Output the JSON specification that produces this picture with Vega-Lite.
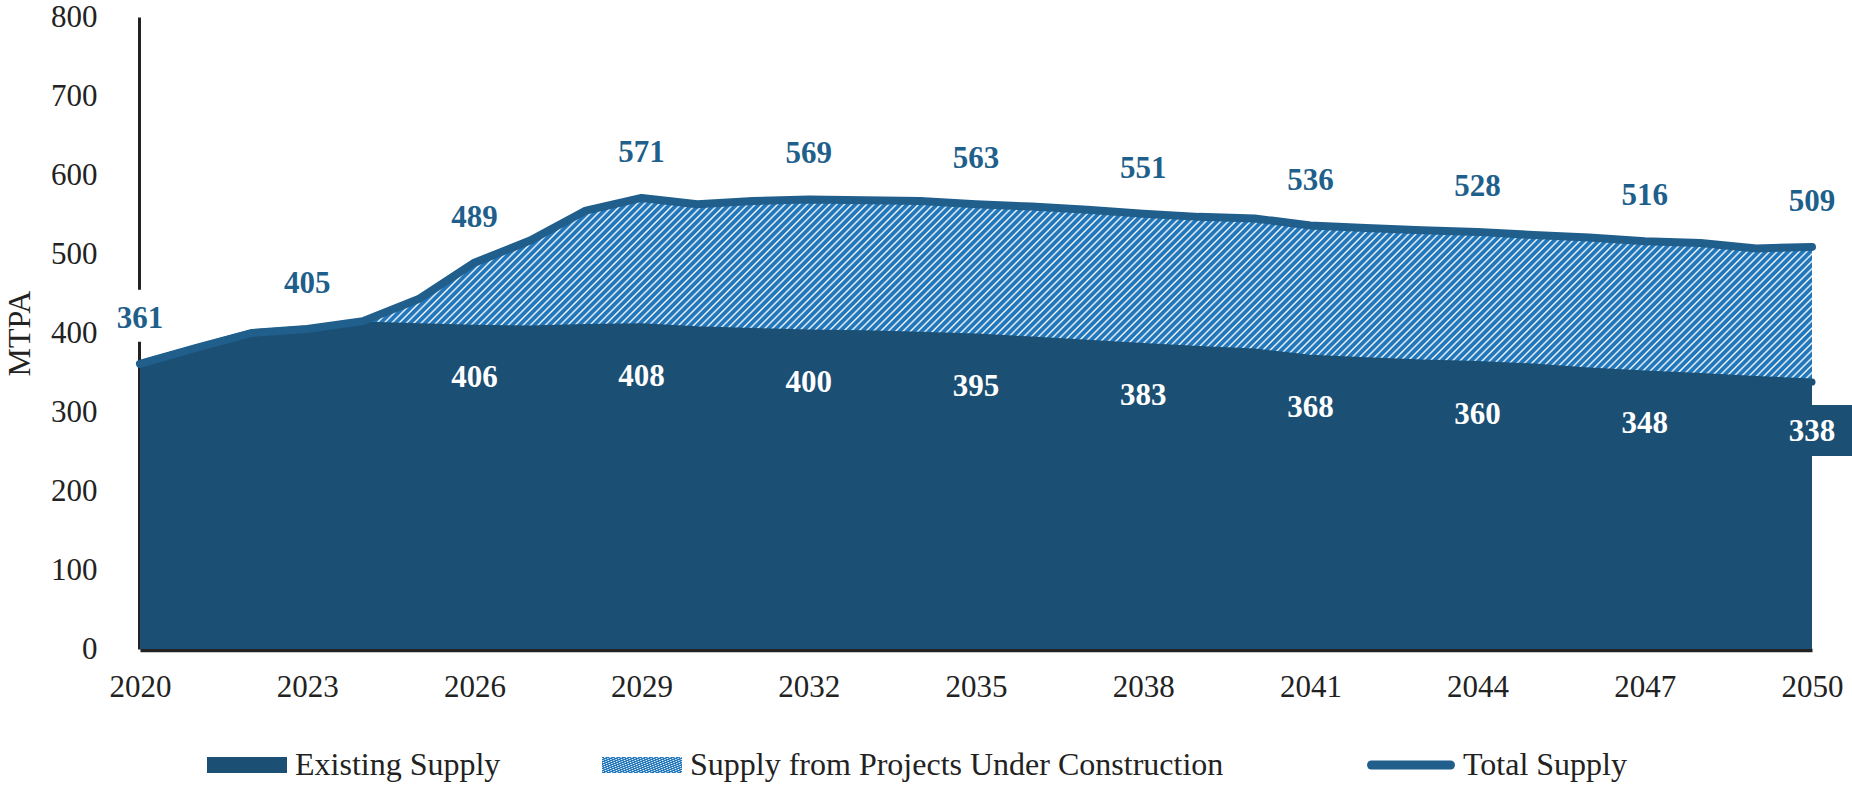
{
"$schema":"https://vega.github.io/schema/vega-lite/v6.json",
"width":1672,"height":632,
"autosize":{"type":"none"},
"padding":{"left":140,"top":17,"right":40,"bottom":137},
"background":"white",
"config":{"view":{"stroke":null},"font":"Liberation Serif"},
"resolve":{"scale":{"stroke":"independent"},"legend":{"stroke":"independent"}},
"data":{"values":[
{"year":2020,"existing":361,"total":361},
{"year":2021,"existing":381,"total":381},
{"year":2022,"existing":400,"total":400},
{"year":2023,"existing":405,"total":405},
{"year":2024,"existing":410,"total":415},
{"year":2025,"existing":408,"total":443},
{"year":2026,"existing":406,"total":489},
{"year":2027,"existing":405,"total":517},
{"year":2028,"existing":407,"total":555},
{"year":2029,"existing":408,"total":571},
{"year":2030,"existing":404,"total":563},
{"year":2031,"existing":402,"total":567},
{"year":2032,"existing":400,"total":569},
{"year":2033,"existing":399,"total":568},
{"year":2034,"existing":397,"total":567},
{"year":2035,"existing":395,"total":563},
{"year":2036,"existing":391,"total":560},
{"year":2037,"existing":387,"total":556},
{"year":2038,"existing":383,"total":551},
{"year":2039,"existing":379,"total":547},
{"year":2040,"existing":376,"total":545},
{"year":2041,"existing":368,"total":536},
{"year":2042,"existing":365,"total":533},
{"year":2043,"existing":362,"total":530},
{"year":2044,"existing":360,"total":528},
{"year":2045,"existing":357,"total":524},
{"year":2046,"existing":352,"total":521},
{"year":2047,"existing":348,"total":516},
{"year":2048,"existing":345,"total":514},
{"year":2049,"existing":341,"total":507},
{"year":2050,"existing":338,"total":509}
]},
"encoding":{"x":{"field":"year","type":"quantitative","scale":{"domain":[2020,2050],"nice":false,"zero":false},
"axis":{"values":[2020,2023,2026,2029,2032,2035,2038,2041,2044,2047,2050],"format":"d","title":null,"grid":false,"ticks":false,"tickSize":0,"domainColor":"#222","domainWidth":3.5,"labelFont":"Liberation Serif","labelFontSize":31,"labelColor":"#222","labelPadding":22,"offset":1,"labelFlush":false,"labelOverlap":false}}},
"layer":[
{"mark":{"type":"area","color":"#1b4f74","opacity":1},
"encoding":{"y":{"field":"existing","type":"quantitative","scale":{"domain":[0,800],"nice":false},
"axis":{"values":[0,100,200,300,400,500,600,700,800],"title":"MTPA","titleFont":"Liberation Serif","titleFontSize":32,"titleFontWeight":"normal","titleColor":"#222","titlePadding":14,"grid":false,"ticks":false,"tickSize":0,"domainColor":"#222","domainWidth":3,"labelFont":"Liberation Serif","labelFontSize":31,"labelColor":"#222","labelPadding":42,"offset":1}},
"fill":{"datum":"Existing Supply","scale":{"range":["#1b4f74"]},"legend":{"title":null,"orient":"none","legendX":67,"legendY":708,"padding":0,"symbolType":"M-1,-0.2H1V0.2H-1Z","symbolSize":6400,"symbolStrokeWidth":0,"symbolOpacity":1,"labelFont":"Liberation Serif","labelFontSize":32,"labelColor":"#222","labelOffset":8,"labelLimit":2000}}}},
{"mark":{"type":"area","opacity":1,"strokeWidth":0,"fill":{"gradient":"linear","x1":0,"y1":0,"x2":1.0967,"y2":0.1207,"stops":[
{"offset":0.000,"color":"#27b"},{"offset":0.002,"color":"#27b"},{"offset":0.003,"color":"#fff"},{"offset":0.004,"color":"#27b"},{"offset":0.006,"color":"#27b"},{"offset":0.007,"color":"#fff"},{"offset":0.008,"color":"#27b"},{"offset":0.010,"color":"#27b"},{"offset":0.011,"color":"#fff"},{"offset":0.012,"color":"#27b"},{"offset":0.014,"color":"#27b"},{"offset":0.015,"color":"#fff"},{"offset":0.016,"color":"#27b"},{"offset":0.018,"color":"#27b"},{"offset":0.019,"color":"#fff"},
{"offset":0.020,"color":"#27b"},{"offset":0.022,"color":"#27b"},{"offset":0.023,"color":"#fff"},{"offset":0.024,"color":"#27b"},{"offset":0.026,"color":"#27b"},{"offset":0.027,"color":"#fff"},{"offset":0.028,"color":"#27b"},{"offset":0.030,"color":"#27b"},{"offset":0.031,"color":"#fff"},{"offset":0.032,"color":"#27b"},{"offset":0.034,"color":"#27b"},{"offset":0.035,"color":"#fff"},{"offset":0.036,"color":"#27b"},{"offset":0.038,"color":"#27b"},{"offset":0.039,"color":"#fff"},
{"offset":0.040,"color":"#27b"},{"offset":0.042,"color":"#27b"},{"offset":0.043,"color":"#fff"},{"offset":0.044,"color":"#27b"},{"offset":0.046,"color":"#27b"},{"offset":0.047,"color":"#fff"},{"offset":0.048,"color":"#27b"},{"offset":0.050,"color":"#27b"},{"offset":0.051,"color":"#fff"},{"offset":0.052,"color":"#27b"},{"offset":0.054,"color":"#27b"},{"offset":0.055,"color":"#fff"},{"offset":0.056,"color":"#27b"},{"offset":0.058,"color":"#27b"},{"offset":0.059,"color":"#fff"},
{"offset":0.060,"color":"#27b"},{"offset":0.062,"color":"#27b"},{"offset":0.063,"color":"#fff"},{"offset":0.064,"color":"#27b"},{"offset":0.066,"color":"#27b"},{"offset":0.067,"color":"#fff"},{"offset":0.068,"color":"#27b"},{"offset":0.070,"color":"#27b"},{"offset":0.071,"color":"#fff"},{"offset":0.072,"color":"#27b"},{"offset":0.074,"color":"#27b"},{"offset":0.075,"color":"#fff"},{"offset":0.076,"color":"#27b"},{"offset":0.078,"color":"#27b"},{"offset":0.079,"color":"#fff"},
{"offset":0.080,"color":"#27b"},{"offset":0.082,"color":"#27b"},{"offset":0.083,"color":"#fff"},{"offset":0.084,"color":"#27b"},{"offset":0.086,"color":"#27b"},{"offset":0.087,"color":"#fff"},{"offset":0.088,"color":"#27b"},{"offset":0.090,"color":"#27b"},{"offset":0.091,"color":"#fff"},{"offset":0.092,"color":"#27b"},{"offset":0.094,"color":"#27b"},{"offset":0.095,"color":"#fff"},{"offset":0.096,"color":"#27b"},{"offset":0.098,"color":"#27b"},{"offset":0.099,"color":"#fff"},
{"offset":0.100,"color":"#27b"},{"offset":0.102,"color":"#27b"},{"offset":0.103,"color":"#fff"},{"offset":0.104,"color":"#27b"},{"offset":0.106,"color":"#27b"},{"offset":0.107,"color":"#fff"},{"offset":0.108,"color":"#27b"},{"offset":0.110,"color":"#27b"},{"offset":0.111,"color":"#fff"},{"offset":0.112,"color":"#27b"},{"offset":0.114,"color":"#27b"},{"offset":0.115,"color":"#fff"},{"offset":0.116,"color":"#27b"},{"offset":0.118,"color":"#27b"},{"offset":0.119,"color":"#fff"},
{"offset":0.120,"color":"#27b"},{"offset":0.122,"color":"#27b"},{"offset":0.123,"color":"#fff"},{"offset":0.124,"color":"#27b"},{"offset":0.126,"color":"#27b"},{"offset":0.127,"color":"#fff"},{"offset":0.128,"color":"#27b"},{"offset":0.130,"color":"#27b"},{"offset":0.131,"color":"#fff"},{"offset":0.132,"color":"#27b"},{"offset":0.134,"color":"#27b"},{"offset":0.135,"color":"#fff"},{"offset":0.136,"color":"#27b"},{"offset":0.138,"color":"#27b"},{"offset":0.139,"color":"#fff"},
{"offset":0.140,"color":"#27b"},{"offset":0.142,"color":"#27b"},{"offset":0.143,"color":"#fff"},{"offset":0.144,"color":"#27b"},{"offset":0.146,"color":"#27b"},{"offset":0.147,"color":"#fff"},{"offset":0.148,"color":"#27b"},{"offset":0.150,"color":"#27b"},{"offset":0.151,"color":"#fff"},{"offset":0.152,"color":"#27b"},{"offset":0.154,"color":"#27b"},{"offset":0.155,"color":"#fff"},{"offset":0.156,"color":"#27b"},{"offset":0.158,"color":"#27b"},{"offset":0.159,"color":"#fff"},
{"offset":0.160,"color":"#27b"},{"offset":0.162,"color":"#27b"},{"offset":0.163,"color":"#fff"},{"offset":0.164,"color":"#27b"},{"offset":0.166,"color":"#27b"},{"offset":0.167,"color":"#fff"},{"offset":0.168,"color":"#27b"},{"offset":0.170,"color":"#27b"},{"offset":0.171,"color":"#fff"},{"offset":0.172,"color":"#27b"},{"offset":0.174,"color":"#27b"},{"offset":0.175,"color":"#fff"},{"offset":0.176,"color":"#27b"},{"offset":0.178,"color":"#27b"},{"offset":0.179,"color":"#fff"},
{"offset":0.180,"color":"#27b"},{"offset":0.182,"color":"#27b"},{"offset":0.183,"color":"#fff"},{"offset":0.184,"color":"#27b"},{"offset":0.186,"color":"#27b"},{"offset":0.187,"color":"#fff"},{"offset":0.188,"color":"#27b"},{"offset":0.190,"color":"#27b"},{"offset":0.191,"color":"#fff"},{"offset":0.192,"color":"#27b"},{"offset":0.194,"color":"#27b"},{"offset":0.195,"color":"#fff"},{"offset":0.196,"color":"#27b"},{"offset":0.198,"color":"#27b"},{"offset":0.199,"color":"#fff"},
{"offset":0.200,"color":"#27b"},{"offset":0.202,"color":"#27b"},{"offset":0.203,"color":"#fff"},{"offset":0.204,"color":"#27b"},{"offset":0.206,"color":"#27b"},{"offset":0.207,"color":"#fff"},{"offset":0.208,"color":"#27b"},{"offset":0.210,"color":"#27b"},{"offset":0.211,"color":"#fff"},{"offset":0.212,"color":"#27b"},{"offset":0.214,"color":"#27b"},{"offset":0.215,"color":"#fff"},{"offset":0.216,"color":"#27b"},{"offset":0.218,"color":"#27b"},{"offset":0.219,"color":"#fff"},
{"offset":0.220,"color":"#27b"},{"offset":0.222,"color":"#27b"},{"offset":0.223,"color":"#fff"},{"offset":0.224,"color":"#27b"},{"offset":0.226,"color":"#27b"},{"offset":0.227,"color":"#fff"},{"offset":0.228,"color":"#27b"},{"offset":0.230,"color":"#27b"},{"offset":0.231,"color":"#fff"},{"offset":0.232,"color":"#27b"},{"offset":0.234,"color":"#27b"},{"offset":0.235,"color":"#fff"},{"offset":0.236,"color":"#27b"},{"offset":0.238,"color":"#27b"},{"offset":0.239,"color":"#fff"},
{"offset":0.240,"color":"#27b"},{"offset":0.242,"color":"#27b"},{"offset":0.243,"color":"#fff"},{"offset":0.244,"color":"#27b"},{"offset":0.246,"color":"#27b"},{"offset":0.247,"color":"#fff"},{"offset":0.248,"color":"#27b"},{"offset":0.250,"color":"#27b"},{"offset":0.251,"color":"#fff"},{"offset":0.252,"color":"#27b"},{"offset":0.254,"color":"#27b"},{"offset":0.255,"color":"#fff"},{"offset":0.256,"color":"#27b"},{"offset":0.258,"color":"#27b"},{"offset":0.259,"color":"#fff"},
{"offset":0.260,"color":"#27b"},{"offset":0.262,"color":"#27b"},{"offset":0.263,"color":"#fff"},{"offset":0.264,"color":"#27b"},{"offset":0.266,"color":"#27b"},{"offset":0.267,"color":"#fff"},{"offset":0.268,"color":"#27b"},{"offset":0.270,"color":"#27b"},{"offset":0.271,"color":"#fff"},{"offset":0.272,"color":"#27b"},{"offset":0.274,"color":"#27b"},{"offset":0.275,"color":"#fff"},{"offset":0.276,"color":"#27b"},{"offset":0.278,"color":"#27b"},{"offset":0.279,"color":"#fff"},
{"offset":0.280,"color":"#27b"},{"offset":0.282,"color":"#27b"},{"offset":0.283,"color":"#fff"},{"offset":0.284,"color":"#27b"},{"offset":0.286,"color":"#27b"},{"offset":0.287,"color":"#fff"},{"offset":0.288,"color":"#27b"},{"offset":0.290,"color":"#27b"},{"offset":0.291,"color":"#fff"},{"offset":0.292,"color":"#27b"},{"offset":0.294,"color":"#27b"},{"offset":0.295,"color":"#fff"},{"offset":0.296,"color":"#27b"},{"offset":0.298,"color":"#27b"},{"offset":0.299,"color":"#fff"},
{"offset":0.300,"color":"#27b"},{"offset":0.302,"color":"#27b"},{"offset":0.303,"color":"#fff"},{"offset":0.304,"color":"#27b"},{"offset":0.306,"color":"#27b"},{"offset":0.307,"color":"#fff"},{"offset":0.308,"color":"#27b"},{"offset":0.310,"color":"#27b"},{"offset":0.311,"color":"#fff"},{"offset":0.312,"color":"#27b"},{"offset":0.314,"color":"#27b"},{"offset":0.315,"color":"#fff"},{"offset":0.316,"color":"#27b"},{"offset":0.318,"color":"#27b"},{"offset":0.319,"color":"#fff"},
{"offset":0.320,"color":"#27b"},{"offset":0.322,"color":"#27b"},{"offset":0.323,"color":"#fff"},{"offset":0.324,"color":"#27b"},{"offset":0.326,"color":"#27b"},{"offset":0.327,"color":"#fff"},{"offset":0.328,"color":"#27b"},{"offset":0.330,"color":"#27b"},{"offset":0.331,"color":"#fff"},{"offset":0.332,"color":"#27b"},{"offset":0.334,"color":"#27b"},{"offset":0.335,"color":"#fff"},{"offset":0.336,"color":"#27b"},{"offset":0.338,"color":"#27b"},{"offset":0.339,"color":"#fff"},
{"offset":0.340,"color":"#27b"},{"offset":0.342,"color":"#27b"},{"offset":0.343,"color":"#fff"},{"offset":0.344,"color":"#27b"},{"offset":0.346,"color":"#27b"},{"offset":0.347,"color":"#fff"},{"offset":0.348,"color":"#27b"},{"offset":0.350,"color":"#27b"},{"offset":0.351,"color":"#fff"},{"offset":0.352,"color":"#27b"},{"offset":0.354,"color":"#27b"},{"offset":0.355,"color":"#fff"},{"offset":0.356,"color":"#27b"},{"offset":0.358,"color":"#27b"},{"offset":0.359,"color":"#fff"},
{"offset":0.360,"color":"#27b"},{"offset":0.362,"color":"#27b"},{"offset":0.363,"color":"#fff"},{"offset":0.364,"color":"#27b"},{"offset":0.366,"color":"#27b"},{"offset":0.367,"color":"#fff"},{"offset":0.368,"color":"#27b"},{"offset":0.370,"color":"#27b"},{"offset":0.371,"color":"#fff"},{"offset":0.372,"color":"#27b"},{"offset":0.374,"color":"#27b"},{"offset":0.375,"color":"#fff"},{"offset":0.376,"color":"#27b"},{"offset":0.378,"color":"#27b"},{"offset":0.379,"color":"#fff"},
{"offset":0.380,"color":"#27b"},{"offset":0.382,"color":"#27b"},{"offset":0.383,"color":"#fff"},{"offset":0.384,"color":"#27b"},{"offset":0.386,"color":"#27b"},{"offset":0.387,"color":"#fff"},{"offset":0.388,"color":"#27b"},{"offset":0.390,"color":"#27b"},{"offset":0.391,"color":"#fff"},{"offset":0.392,"color":"#27b"},{"offset":0.394,"color":"#27b"},{"offset":0.395,"color":"#fff"},{"offset":0.396,"color":"#27b"},{"offset":0.398,"color":"#27b"},{"offset":0.399,"color":"#fff"},
{"offset":0.400,"color":"#27b"},{"offset":0.402,"color":"#27b"},{"offset":0.403,"color":"#fff"},{"offset":0.404,"color":"#27b"},{"offset":0.406,"color":"#27b"},{"offset":0.407,"color":"#fff"},{"offset":0.408,"color":"#27b"},{"offset":0.410,"color":"#27b"},{"offset":0.411,"color":"#fff"},{"offset":0.412,"color":"#27b"},{"offset":0.414,"color":"#27b"},{"offset":0.415,"color":"#fff"},{"offset":0.416,"color":"#27b"},{"offset":0.418,"color":"#27b"},{"offset":0.419,"color":"#fff"},
{"offset":0.420,"color":"#27b"},{"offset":0.422,"color":"#27b"},{"offset":0.423,"color":"#fff"},{"offset":0.424,"color":"#27b"},{"offset":0.426,"color":"#27b"},{"offset":0.427,"color":"#fff"},{"offset":0.428,"color":"#27b"},{"offset":0.430,"color":"#27b"},{"offset":0.431,"color":"#fff"},{"offset":0.432,"color":"#27b"},{"offset":0.434,"color":"#27b"},{"offset":0.435,"color":"#fff"},{"offset":0.436,"color":"#27b"},{"offset":0.438,"color":"#27b"},{"offset":0.439,"color":"#fff"},
{"offset":0.440,"color":"#27b"},{"offset":0.442,"color":"#27b"},{"offset":0.443,"color":"#fff"},{"offset":0.444,"color":"#27b"},{"offset":0.446,"color":"#27b"},{"offset":0.447,"color":"#fff"},{"offset":0.448,"color":"#27b"},{"offset":0.450,"color":"#27b"},{"offset":0.451,"color":"#fff"},{"offset":0.452,"color":"#27b"},{"offset":0.454,"color":"#27b"},{"offset":0.455,"color":"#fff"},{"offset":0.456,"color":"#27b"},{"offset":0.458,"color":"#27b"},{"offset":0.459,"color":"#fff"},
{"offset":0.460,"color":"#27b"},{"offset":0.462,"color":"#27b"},{"offset":0.463,"color":"#fff"},{"offset":0.464,"color":"#27b"},{"offset":0.466,"color":"#27b"},{"offset":0.467,"color":"#fff"},{"offset":0.468,"color":"#27b"},{"offset":0.470,"color":"#27b"},{"offset":0.471,"color":"#fff"},{"offset":0.472,"color":"#27b"},{"offset":0.474,"color":"#27b"},{"offset":0.475,"color":"#fff"},{"offset":0.476,"color":"#27b"},{"offset":0.478,"color":"#27b"},{"offset":0.479,"color":"#fff"},
{"offset":0.480,"color":"#27b"},{"offset":0.482,"color":"#27b"},{"offset":0.483,"color":"#fff"},{"offset":0.484,"color":"#27b"},{"offset":0.486,"color":"#27b"},{"offset":0.487,"color":"#fff"},{"offset":0.488,"color":"#27b"},{"offset":0.490,"color":"#27b"},{"offset":0.491,"color":"#fff"},{"offset":0.492,"color":"#27b"},{"offset":0.494,"color":"#27b"},{"offset":0.495,"color":"#fff"},{"offset":0.496,"color":"#27b"},{"offset":0.498,"color":"#27b"},{"offset":0.499,"color":"#fff"},
{"offset":0.500,"color":"#27b"},{"offset":0.502,"color":"#27b"},{"offset":0.503,"color":"#fff"},{"offset":0.504,"color":"#27b"},{"offset":0.506,"color":"#27b"},{"offset":0.507,"color":"#fff"},{"offset":0.508,"color":"#27b"},{"offset":0.510,"color":"#27b"},{"offset":0.511,"color":"#fff"},{"offset":0.512,"color":"#27b"},{"offset":0.514,"color":"#27b"},{"offset":0.515,"color":"#fff"},{"offset":0.516,"color":"#27b"},{"offset":0.518,"color":"#27b"},{"offset":0.519,"color":"#fff"},
{"offset":0.520,"color":"#27b"},{"offset":0.522,"color":"#27b"},{"offset":0.523,"color":"#fff"},{"offset":0.524,"color":"#27b"},{"offset":0.526,"color":"#27b"},{"offset":0.527,"color":"#fff"},{"offset":0.528,"color":"#27b"},{"offset":0.530,"color":"#27b"},{"offset":0.531,"color":"#fff"},{"offset":0.532,"color":"#27b"},{"offset":0.534,"color":"#27b"},{"offset":0.535,"color":"#fff"},{"offset":0.536,"color":"#27b"},{"offset":0.538,"color":"#27b"},{"offset":0.539,"color":"#fff"},
{"offset":0.540,"color":"#27b"},{"offset":0.542,"color":"#27b"},{"offset":0.543,"color":"#fff"},{"offset":0.544,"color":"#27b"},{"offset":0.546,"color":"#27b"},{"offset":0.547,"color":"#fff"},{"offset":0.548,"color":"#27b"},{"offset":0.550,"color":"#27b"},{"offset":0.551,"color":"#fff"},{"offset":0.552,"color":"#27b"},{"offset":0.554,"color":"#27b"},{"offset":0.555,"color":"#fff"},{"offset":0.556,"color":"#27b"},{"offset":0.558,"color":"#27b"},{"offset":0.559,"color":"#fff"},
{"offset":0.560,"color":"#27b"},{"offset":0.562,"color":"#27b"},{"offset":0.563,"color":"#fff"},{"offset":0.564,"color":"#27b"},{"offset":0.566,"color":"#27b"},{"offset":0.567,"color":"#fff"},{"offset":0.568,"color":"#27b"},{"offset":0.570,"color":"#27b"},{"offset":0.571,"color":"#fff"},{"offset":0.572,"color":"#27b"},{"offset":0.574,"color":"#27b"},{"offset":0.575,"color":"#fff"},{"offset":0.576,"color":"#27b"},{"offset":0.578,"color":"#27b"},{"offset":0.579,"color":"#fff"},
{"offset":0.580,"color":"#27b"},{"offset":0.582,"color":"#27b"},{"offset":0.583,"color":"#fff"},{"offset":0.584,"color":"#27b"},{"offset":0.586,"color":"#27b"},{"offset":0.587,"color":"#fff"},{"offset":0.588,"color":"#27b"},{"offset":0.590,"color":"#27b"},{"offset":0.591,"color":"#fff"},{"offset":0.592,"color":"#27b"},{"offset":0.594,"color":"#27b"},{"offset":0.595,"color":"#fff"},{"offset":0.596,"color":"#27b"},{"offset":0.598,"color":"#27b"},{"offset":0.599,"color":"#fff"},
{"offset":0.600,"color":"#27b"},{"offset":0.602,"color":"#27b"},{"offset":0.603,"color":"#fff"},{"offset":0.604,"color":"#27b"},{"offset":0.606,"color":"#27b"},{"offset":0.607,"color":"#fff"},{"offset":0.608,"color":"#27b"},{"offset":0.610,"color":"#27b"},{"offset":0.611,"color":"#fff"},{"offset":0.612,"color":"#27b"},{"offset":0.614,"color":"#27b"},{"offset":0.615,"color":"#fff"},{"offset":0.616,"color":"#27b"},{"offset":0.618,"color":"#27b"},{"offset":0.619,"color":"#fff"},
{"offset":0.620,"color":"#27b"},{"offset":0.622,"color":"#27b"},{"offset":0.623,"color":"#fff"},{"offset":0.624,"color":"#27b"},{"offset":0.626,"color":"#27b"},{"offset":0.627,"color":"#fff"},{"offset":0.628,"color":"#27b"},{"offset":0.630,"color":"#27b"},{"offset":0.631,"color":"#fff"},{"offset":0.632,"color":"#27b"},{"offset":0.634,"color":"#27b"},{"offset":0.635,"color":"#fff"},{"offset":0.636,"color":"#27b"},{"offset":0.638,"color":"#27b"},{"offset":0.639,"color":"#fff"},
{"offset":0.640,"color":"#27b"},{"offset":0.642,"color":"#27b"},{"offset":0.643,"color":"#fff"},{"offset":0.644,"color":"#27b"},{"offset":0.646,"color":"#27b"},{"offset":0.647,"color":"#fff"},{"offset":0.648,"color":"#27b"},{"offset":0.650,"color":"#27b"},{"offset":0.651,"color":"#fff"},{"offset":0.652,"color":"#27b"},{"offset":0.654,"color":"#27b"},{"offset":0.655,"color":"#fff"},{"offset":0.656,"color":"#27b"},{"offset":0.658,"color":"#27b"},{"offset":0.659,"color":"#fff"},
{"offset":0.660,"color":"#27b"},{"offset":0.662,"color":"#27b"},{"offset":0.663,"color":"#fff"},{"offset":0.664,"color":"#27b"},{"offset":0.666,"color":"#27b"},{"offset":0.667,"color":"#fff"},{"offset":0.668,"color":"#27b"},{"offset":0.670,"color":"#27b"},{"offset":0.671,"color":"#fff"},{"offset":0.672,"color":"#27b"},{"offset":0.674,"color":"#27b"},{"offset":0.675,"color":"#fff"},{"offset":0.676,"color":"#27b"},{"offset":0.678,"color":"#27b"},{"offset":0.679,"color":"#fff"},
{"offset":0.680,"color":"#27b"},{"offset":0.682,"color":"#27b"},{"offset":0.683,"color":"#fff"},{"offset":0.684,"color":"#27b"},{"offset":0.686,"color":"#27b"},{"offset":0.687,"color":"#fff"},{"offset":0.688,"color":"#27b"},{"offset":0.690,"color":"#27b"},{"offset":0.691,"color":"#fff"},{"offset":0.692,"color":"#27b"},{"offset":0.694,"color":"#27b"},{"offset":0.695,"color":"#fff"},{"offset":0.696,"color":"#27b"},{"offset":0.698,"color":"#27b"},{"offset":0.699,"color":"#fff"},
{"offset":0.700,"color":"#27b"},{"offset":0.702,"color":"#27b"},{"offset":0.703,"color":"#fff"},{"offset":0.704,"color":"#27b"},{"offset":0.706,"color":"#27b"},{"offset":0.707,"color":"#fff"},{"offset":0.708,"color":"#27b"},{"offset":0.710,"color":"#27b"},{"offset":0.711,"color":"#fff"},{"offset":0.712,"color":"#27b"},{"offset":0.714,"color":"#27b"},{"offset":0.715,"color":"#fff"},{"offset":0.716,"color":"#27b"},{"offset":0.718,"color":"#27b"},{"offset":0.719,"color":"#fff"},
{"offset":0.720,"color":"#27b"},{"offset":0.722,"color":"#27b"},{"offset":0.723,"color":"#fff"},{"offset":0.724,"color":"#27b"},{"offset":0.726,"color":"#27b"},{"offset":0.727,"color":"#fff"},{"offset":0.728,"color":"#27b"},{"offset":0.730,"color":"#27b"},{"offset":0.731,"color":"#fff"},{"offset":0.732,"color":"#27b"},{"offset":0.734,"color":"#27b"},{"offset":0.735,"color":"#fff"},{"offset":0.736,"color":"#27b"},{"offset":0.738,"color":"#27b"},{"offset":0.739,"color":"#fff"},
{"offset":0.740,"color":"#27b"},{"offset":0.742,"color":"#27b"},{"offset":0.743,"color":"#fff"},{"offset":0.744,"color":"#27b"},{"offset":0.746,"color":"#27b"},{"offset":0.747,"color":"#fff"},{"offset":0.748,"color":"#27b"},{"offset":0.750,"color":"#27b"},{"offset":0.751,"color":"#fff"},{"offset":0.752,"color":"#27b"},{"offset":0.754,"color":"#27b"},{"offset":0.755,"color":"#fff"},{"offset":0.756,"color":"#27b"},{"offset":0.758,"color":"#27b"},{"offset":0.759,"color":"#fff"},
{"offset":0.760,"color":"#27b"},{"offset":0.762,"color":"#27b"},{"offset":0.763,"color":"#fff"},{"offset":0.764,"color":"#27b"},{"offset":0.766,"color":"#27b"},{"offset":0.767,"color":"#fff"},{"offset":0.768,"color":"#27b"},{"offset":0.770,"color":"#27b"},{"offset":0.771,"color":"#fff"},{"offset":0.772,"color":"#27b"},{"offset":0.774,"color":"#27b"},{"offset":0.775,"color":"#fff"},{"offset":0.776,"color":"#27b"},{"offset":0.778,"color":"#27b"},{"offset":0.779,"color":"#fff"},
{"offset":0.780,"color":"#27b"},{"offset":0.782,"color":"#27b"},{"offset":0.783,"color":"#fff"},{"offset":0.784,"color":"#27b"},{"offset":0.786,"color":"#27b"},{"offset":0.787,"color":"#fff"},{"offset":0.788,"color":"#27b"},{"offset":0.790,"color":"#27b"},{"offset":0.791,"color":"#fff"},{"offset":0.792,"color":"#27b"},{"offset":0.794,"color":"#27b"},{"offset":0.795,"color":"#fff"},{"offset":0.796,"color":"#27b"},{"offset":0.798,"color":"#27b"},{"offset":0.799,"color":"#fff"},
{"offset":0.800,"color":"#27b"},{"offset":0.802,"color":"#27b"},{"offset":0.803,"color":"#fff"},{"offset":0.804,"color":"#27b"},{"offset":0.806,"color":"#27b"},{"offset":0.807,"color":"#fff"},{"offset":0.808,"color":"#27b"},{"offset":0.810,"color":"#27b"},{"offset":0.811,"color":"#fff"},{"offset":0.812,"color":"#27b"},{"offset":0.814,"color":"#27b"},{"offset":0.815,"color":"#fff"},{"offset":0.816,"color":"#27b"},{"offset":0.818,"color":"#27b"},{"offset":0.819,"color":"#fff"},
{"offset":0.820,"color":"#27b"},{"offset":0.822,"color":"#27b"},{"offset":0.823,"color":"#fff"},{"offset":0.824,"color":"#27b"},{"offset":0.826,"color":"#27b"},{"offset":0.827,"color":"#fff"},{"offset":0.828,"color":"#27b"},{"offset":0.830,"color":"#27b"},{"offset":0.831,"color":"#fff"},{"offset":0.832,"color":"#27b"},{"offset":0.834,"color":"#27b"},{"offset":0.835,"color":"#fff"},{"offset":0.836,"color":"#27b"},{"offset":0.838,"color":"#27b"},{"offset":0.839,"color":"#fff"},
{"offset":0.840,"color":"#27b"},{"offset":0.842,"color":"#27b"},{"offset":0.843,"color":"#fff"},{"offset":0.844,"color":"#27b"},{"offset":0.846,"color":"#27b"},{"offset":0.847,"color":"#fff"},{"offset":0.848,"color":"#27b"},{"offset":0.850,"color":"#27b"},{"offset":0.851,"color":"#fff"},{"offset":0.852,"color":"#27b"},{"offset":0.854,"color":"#27b"},{"offset":0.855,"color":"#fff"},{"offset":0.856,"color":"#27b"},{"offset":0.858,"color":"#27b"},{"offset":0.859,"color":"#fff"},
{"offset":0.860,"color":"#27b"},{"offset":0.862,"color":"#27b"},{"offset":0.863,"color":"#fff"},{"offset":0.864,"color":"#27b"},{"offset":0.866,"color":"#27b"},{"offset":0.867,"color":"#fff"},{"offset":0.868,"color":"#27b"},{"offset":0.870,"color":"#27b"},{"offset":0.871,"color":"#fff"},{"offset":0.872,"color":"#27b"},{"offset":0.874,"color":"#27b"},{"offset":0.875,"color":"#fff"},{"offset":0.876,"color":"#27b"},{"offset":0.878,"color":"#27b"},{"offset":0.879,"color":"#fff"},
{"offset":0.880,"color":"#27b"},{"offset":0.882,"color":"#27b"},{"offset":0.883,"color":"#fff"},{"offset":0.884,"color":"#27b"},{"offset":0.886,"color":"#27b"},{"offset":0.887,"color":"#fff"},{"offset":0.888,"color":"#27b"},{"offset":0.890,"color":"#27b"},{"offset":0.891,"color":"#fff"},{"offset":0.892,"color":"#27b"},{"offset":0.894,"color":"#27b"},{"offset":0.895,"color":"#fff"},{"offset":0.896,"color":"#27b"},{"offset":0.898,"color":"#27b"},{"offset":0.899,"color":"#fff"},
{"offset":0.900,"color":"#27b"},{"offset":0.902,"color":"#27b"},{"offset":0.903,"color":"#fff"},{"offset":0.904,"color":"#27b"},{"offset":0.906,"color":"#27b"},{"offset":0.907,"color":"#fff"},{"offset":0.908,"color":"#27b"},{"offset":0.910,"color":"#27b"},{"offset":0.911,"color":"#fff"},{"offset":0.912,"color":"#27b"},{"offset":0.914,"color":"#27b"},{"offset":0.915,"color":"#fff"},{"offset":0.916,"color":"#27b"},{"offset":0.918,"color":"#27b"},{"offset":0.919,"color":"#fff"},
{"offset":0.920,"color":"#27b"},{"offset":0.922,"color":"#27b"},{"offset":0.923,"color":"#fff"},{"offset":0.924,"color":"#27b"},{"offset":0.926,"color":"#27b"},{"offset":0.927,"color":"#fff"},{"offset":0.928,"color":"#27b"},{"offset":0.930,"color":"#27b"},{"offset":0.931,"color":"#fff"},{"offset":0.932,"color":"#27b"},{"offset":0.934,"color":"#27b"},{"offset":0.935,"color":"#fff"},{"offset":0.936,"color":"#27b"},{"offset":0.938,"color":"#27b"},{"offset":0.939,"color":"#fff"},
{"offset":0.940,"color":"#27b"},{"offset":0.942,"color":"#27b"},{"offset":0.943,"color":"#fff"},{"offset":0.944,"color":"#27b"},{"offset":0.946,"color":"#27b"},{"offset":0.947,"color":"#fff"},{"offset":0.948,"color":"#27b"},{"offset":0.950,"color":"#27b"},{"offset":0.951,"color":"#fff"},{"offset":0.952,"color":"#27b"},{"offset":0.954,"color":"#27b"},{"offset":0.955,"color":"#fff"},{"offset":0.956,"color":"#27b"},{"offset":0.958,"color":"#27b"},{"offset":0.959,"color":"#fff"},
{"offset":0.960,"color":"#27b"},{"offset":0.962,"color":"#27b"},{"offset":0.963,"color":"#fff"},{"offset":0.964,"color":"#27b"},{"offset":0.966,"color":"#27b"},{"offset":0.967,"color":"#fff"},{"offset":0.968,"color":"#27b"},{"offset":0.970,"color":"#27b"},{"offset":0.971,"color":"#fff"},{"offset":0.972,"color":"#27b"},{"offset":0.974,"color":"#27b"},{"offset":0.975,"color":"#fff"},{"offset":0.976,"color":"#27b"},{"offset":0.978,"color":"#27b"},{"offset":0.979,"color":"#fff"},
{"offset":0.980,"color":"#27b"},{"offset":0.982,"color":"#27b"},{"offset":0.983,"color":"#fff"},{"offset":0.984,"color":"#27b"},{"offset":0.986,"color":"#27b"},{"offset":0.987,"color":"#fff"},{"offset":0.988,"color":"#27b"},{"offset":0.990,"color":"#27b"},{"offset":0.991,"color":"#fff"},{"offset":0.992,"color":"#27b"},{"offset":0.994,"color":"#27b"},{"offset":0.995,"color":"#fff"},{"offset":0.996,"color":"#27b"},{"offset":0.998,"color":"#27b"},{"offset":0.999,"color":"#fff"},
{"offset":1.000,"color":"#27b"}]}},
"encoding":{"y":{"field":"total","type":"quantitative"},"y2":{"field":"existing"},
"stroke":{"datum":"Supply from Projects Under Construction","scale":{"range":["transparent"]},"legend":{"title":null,"orient":"none","legendX":462,"legendY":708,"padding":0,"symbolType":"M-1,-0.2H1V0.2H-1Z","symbolSize":6400,"symbolStrokeWidth":0,"symbolOpacity":1,"labelFont":"Liberation Serif","labelFontSize":32,"labelColor":"#222","labelOffset":8,"labelLimit":2000,
"encode":{"symbols":{"update":{"stroke":{"value":"transparent"},"opacity":{"value":1},"fill":{"value":{"gradient":"linear","x1":0,"y1":0,"x2":1.1538,"y2":0.2308,"stops":[
{"offset":0,"color":"#27b"},{"offset":0.05,"color":"#27b"},{"offset":0.075,"color":"#fff"},{"offset":0.1,"color":"#27b"},{"offset":0.15,"color":"#27b"},{"offset":0.175,"color":"#fff"},{"offset":0.2,"color":"#27b"},{"offset":0.25,"color":"#27b"},{"offset":0.275,"color":"#fff"},{"offset":0.3,"color":"#27b"},{"offset":0.35,"color":"#27b"},{"offset":0.375,"color":"#fff"},{"offset":0.4,"color":"#27b"},{"offset":0.45,"color":"#27b"},{"offset":0.475,"color":"#fff"},{"offset":0.5,"color":"#27b"},{"offset":0.55,"color":"#27b"},{"offset":0.575,"color":"#fff"},{"offset":0.6,"color":"#27b"},{"offset":0.65,"color":"#27b"},{"offset":0.675,"color":"#fff"},{"offset":0.7,"color":"#27b"},{"offset":0.75,"color":"#27b"},{"offset":0.775,"color":"#fff"},{"offset":0.8,"color":"#27b"},{"offset":0.85,"color":"#27b"},{"offset":0.875,"color":"#fff"},{"offset":0.9,"color":"#27b"},{"offset":0.95,"color":"#27b"},{"offset":0.975,"color":"#fff"},{"offset":1,"color":"#27b"}]}}}}}}}}},
{"mark":{"type":"line","color":"#1b4f74","strokeWidth":7,"strokeCap":"round","strokeJoin":"round"},
"encoding":{"y":{"field":"existing","type":"quantitative"}}},
{"mark":{"type":"line","strokeWidth":8,"strokeCap":"round","strokeJoin":"round"},
"encoding":{"y":{"field":"total","type":"quantitative"},
"stroke":{"datum":"Total Supply","scale":{"range":["#205e8c"]},"legend":{"title":null,"orient":"none","legendX":1227,"legendY":704,"padding":0,"symbolType":"stroke","symbolSize":6241,"symbolStrokeWidth":9,"labelFont":"Liberation Serif","labelFontSize":32,"labelColor":"#222","labelOffset":8,"labelLimit":2000,"encode":{"symbols":{"update":{"strokeCap":{"value":"round"}}}}}}}},
{"transform":[{"filter":"datum.year == 2020"}],
"mark":{"type":"point","shape":"M-1,-0.867H1V0.867H-1Z","size":3600,"filled":true,"color":"white","opacity":1,"strokeWidth":0,"yOffset":-48},
"encoding":{"y":{"field":"total","type":"quantitative"}}},
{"transform":[{"filter":"datum.year == 2050"}],
"mark":{"type":"point","shape":"M-1,-0.739H1V0.739H-1Z","size":4761,"filled":true,"color":"#1b4f74","opacity":1,"strokeWidth":0,"xOffset":5.5,"yOffset":48.5},
"encoding":{"y":{"field":"existing","type":"quantitative"}}},
{"transform":[{"filter":{"field":"year","oneOf":[2020,2023,2026,2029,2032,2035,2038,2041,2044,2047,2050]}}],
"mark":{"type":"text","font":"Liberation Serif","fontSize":31,"fontWeight":"bold","color":"#1f5f8b","dy":-45,"baseline":"middle","align":"center"},
"encoding":{"y":{"field":"total","type":"quantitative"},"text":{"field":"total","type":"quantitative"}}},
{"transform":[{"filter":{"field":"year","oneOf":[2026,2029,2032,2035,2038,2041,2044,2047,2050]}}],
"mark":{"type":"text","font":"Liberation Serif","fontSize":31,"fontWeight":"bold","color":"white","dy":50,"baseline":"middle","align":"center"},
"encoding":{"y":{"field":"existing","type":"quantitative"},"text":{"field":"existing","type":"quantitative"}}}
]
}
